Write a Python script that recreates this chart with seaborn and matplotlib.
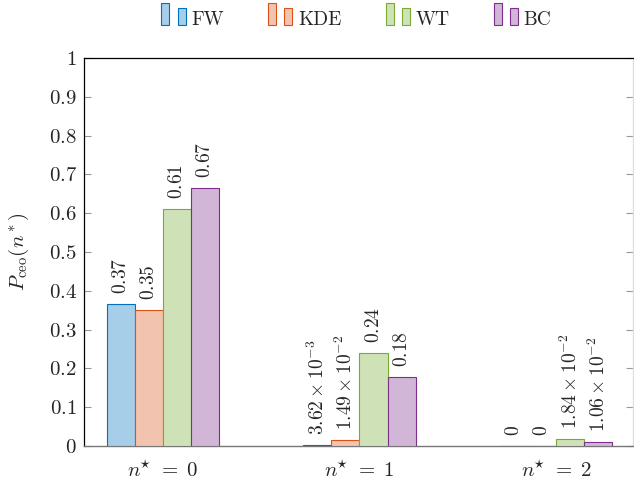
import numpy as np
import pandas as pd
import matplotlib
matplotlib.use("Agg")
import matplotlib.pyplot as plt
from matplotlib.patches import Rectangle, Patch
from matplotlib.legend_handler import HandlerBase
import seaborn as sns

# Data
groups = [r"$n^{\!\!\star} \;=\; 0$", r"$n^{\!\!\star} \;=\; 1$", r"$n^{\!\!\star} \;=\; 2$"]
methods = ["FW", "KDE", "WT", "BC"]
fw = [0.366, 3.62e-3, 0.0]
kde = [0.351, 1.49e-2, 0.0]
wt = [0.611, 0.240, 1.84e-2]
bc = [0.665, 0.178, 1.06e-2]
y_ticks = [0, 0.1, 0.2, 0.3, 0.4, 0.5, 0.6, 0.7, 0.8, 0.9, 1]
y_tick_labels = ["0", "0.1", "0.2", "0.3", "0.4", "0.5", "0.6", "0.7", "0.8", "0.9", "1"]

edge_colors = ["#0072BD", "#D95319", "#77AC30", "#7E2F8E"]


def tint(hex_color, amount=0.35):
    rgb = np.array(matplotlib.colors.to_rgb(hex_color))
    return tuple(amount * rgb + (1 - amount) * np.ones(3))


fill_colors = [tint(c) for c in edge_colors]

df = pd.DataFrame({
    "group": np.repeat(groups, len(methods)),
    "method": methods * len(groups),
    "value": [v for row in zip(fw, kde, wt, bc) for v in row],
})

sns.set_style("ticks")
plt.rcParams["font.family"] = ["serif"]
plt.rcParams["font.serif"] = ["cmr10", "DejaVu Serif"]
plt.rcParams["mathtext.fontset"] = "cm"
plt.rcParams["axes.unicode_minus"] = False

TICK_FS = 15
VAL_FS = 14
LEG_FS = 14

fig = plt.figure(figsize=(6.34, 4.91), dpi=100)
ax = fig.add_axes([84 / 634, 45 / 491, 549 / 634, 388 / 491])

sns.barplot(data=df, x="group", y="value", hue="method", order=groups,
            hue_order=methods, palette=fill_colors, saturation=1,
            width=0.57, errorbar=None, legend=False, ax=ax, zorder=3)


def fmt(v):
    if v == 0:
        return "$0$"
    if v >= 0.1:
        return f"${v:.2f}$"
    exp = int(np.floor(np.log10(v)))
    mant = v / 10 ** exp
    return rf"${mant:.2f} \times 10^{{{exp}}}$"


for container, ec in zip(ax.containers, edge_colors):
    for bar in container:
        bar.set_edgecolor(ec)
        bar.set_linewidth(0.8)
        h = bar.get_height()
        ax.annotate(fmt(h), xy=(bar.get_x() + bar.get_width() / 2, h),
                    xytext=(0, 7), textcoords="offset points",
                    rotation=90, ha="center", va="bottom", fontsize=VAL_FS)

ax.set_xlim(-0.4, 2.39)
ax.set_ylim(0, 1)
ax.set_yticks(y_ticks)
ax.set_yticklabels([f"${t}$" for t in y_tick_labels], fontsize=TICK_FS)
ax.set_xticks(range(len(groups)))
ax.set_xticklabels(groups, fontsize=TICK_FS)
ax.set_xlabel("")
ax.set_ylabel(r"$P_{\mathrm{ceo}}(n^\ast)$", fontsize=TICK_FS)
ax.yaxis.set_label_coords(-0.097, 0.5)

ax.tick_params(axis="y", direction="in", length=5, width=0.8, color="#999999",
               left=True, right=True, pad=5)
ax.tick_params(axis="x", length=0, pad=10)

for side in ["left", "top"]:
    ax.spines[side].set_color("black")
    ax.spines[side].set_linewidth(0.9)
ax.spines["bottom"].set_color("#777777")
ax.spines["bottom"].set_linewidth(1.0)
ax.spines["right"].set_color("#dddddd")
ax.spines["right"].set_linewidth(0.9)
for s in ax.spines.values():
    s.set_visible(True)


class TwinBarHandler(HandlerBase):
    """Legend key made of two small bars of different heights."""

    def create_artists(self, legend, orig_handle, xdescent, ydescent,
                       width, height, fontsize, trans):
        face = orig_handle.get_facecolor()
        edge = orig_handle.get_edgecolor()
        w = 0.41 * fontsize
        r1 = Rectangle((-xdescent, 0), w, 1.13 * fontsize,
                       facecolor=face, edgecolor=edge, linewidth=0.8,
                       transform=trans)
        r2 = Rectangle((-xdescent + width - w, 0), w, 0.87 * fontsize,
                       facecolor=face, edgecolor=edge, linewidth=0.8,
                       transform=trans)
        return [r1, r2]


handles = [Patch(facecolor=f, edgecolor=e) for f, e in zip(fill_colors, edge_colors)]
fig.legend(handles, methods, loc="center", bbox_to_anchor=(0.5623, 0.962),
           ncol=4, frameon=False, fontsize=LEG_FS, handlelength=1.24,
           handleheight=1.1, handletextpad=0.3, columnspacing=2.27,
           handler_map={Patch: TwinBarHandler()})

fig.savefig("out.png", dpi=100)
